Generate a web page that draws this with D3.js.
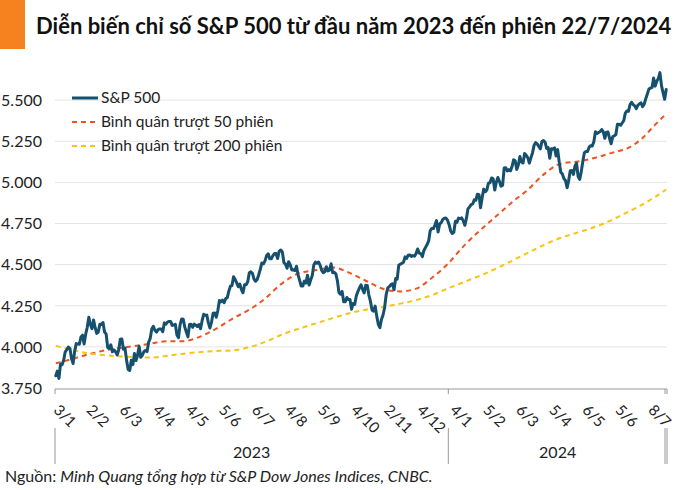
<!DOCTYPE html>
<html><head><meta charset="utf-8">
<script src="https://cdn.jsdelivr.net/npm/d3@7"></script>
<style>
body{margin:0;background:#fff;}
svg{display:block;font-family:Lato,"Noto Sans",sans-serif;}
</style>
</head><body>
<svg id="chart" width="700" height="490"></svg>
<script>
// ---- data ----
const spx2023 = [
3824,3853,3808,3895,3892,3919,3970,3983,3999,3991,3929,3899,3973,4020,4017,4016,4060,4071,4018,4077,
4119,4180,4136,4111,4164,4118,4082,4090,4137,4136,4148,4090,4079,3997,3991,4012,3970,3982,3970,
3951,3981,4046,4048,3986,3992,3918,3862,3856,3919,3892,3960,3917,3952,4003,3937,3949,3971,3978,3971,4028,4051,4109,
4125,4101,4090,4105,4109,4109,4092,4146,4138,4151,4155,4155,4130,4134,4137,4072,4056,4135,4169,
4168,4120,4091,4061,4136,4138,4119,4138,4131,4124,4136,4110,4159,4198,4192,4193,4146,4115,4151,4205,4206,4180,
4221,4282,4274,4284,4268,4294,4299,4339,4369,4373,4426,4410,4389,4366,4382,4348,4329,4378,4377,4396,4450,
4456,4447,4412,4399,4410,4439,4472,4510,4505,4523,4555,4566,4535,4536,4555,4567,4567,4537,4582,4589,
4577,4513,4502,4478,4518,4499,4468,4469,4464,4490,4438,4404,4370,4370,4400,4388,4436,4376,4406,4433,4498,4515,4508,
4516,4497,4465,4451,4457,4487,4462,4467,4505,4450,4454,4444,4402,4330,4320,4337,4274,4275,4300,4288,
4288,4229,4264,4258,4309,4336,4358,4377,4350,4328,4374,4373,4315,4278,4224,4217,4248,4187,4137,4117,4167,4194,
4238,4318,4358,4366,4378,4383,4347,4415,4412,4496,4503,4508,4514,4547,4538,4557,4559,4550,4555,4551,4568,
4595,4570,4567,4549,4586,4604,4622,4644,4707,4720,4719,4741,4768,4698,4747,4755,4775,4782,4783,4770];
const spx2024 = [
4743,4705,4689,4697,4764,4757,4783,4780,4784,4766,4739,4781,4840,4850,4865,4869,4894,4891,4928,4925,4846,
4906,4959,4943,4954,4995,4998,5027,5022,4953,5001,5030,5006,4976,4982,5087,5089,5070,5078,5070,5096,
5137,5131,5079,5105,5157,5124,5118,5175,5165,5150,5117,5149,5179,5225,5242,5234,5218,5204,5248,5254,
5244,5206,5211,5147,5204,5202,5210,5161,5199,5123,5062,5051,5022,5011,4967,5011,5071,5072,5048,5100,5116,5036,
5018,5064,5128,5181,5188,5188,5214,5223,5221,5247,5308,5297,5303,5308,5321,5307,5268,5305,5306,5267,5235,5278,
5283,5291,5354,5353,5347,5361,5375,5421,5434,5432,5473,5487,5473,5465,5448,5469,5478,5483,5460,
5475,5509,5537,5567,5573,5577,5634,5585,5615,5631,5667,5588,5545,5505,5564];

// 50-session moving average (session index, value)
const ma50Idx = [0,10,17,25,34,42,49,61,70,80,91,102,113,123,133,143,155,166,176,186,197,208,219,229,239,249,260,270,280,290,300,310,321,332,343,354,364,373,381,388];
const ma50Val = [3900,3925,3945,3965,3984,3995,4004,4021,4034,4034,4059,4111,4175,4226,4293,4380,4449,4467,4483,4453,4402,4353,4337,4354,4419,4503,4620,4711,4795,4879,4955,5047,5114,5127,5150,5181,5210,5270,5351,5417];

// 200-session moving average (session index, value)
const ma200Idx = [0,10,20,30,40,50,61,70,80,91,102,113,123,133,143,155,166,176,186,199,208,219,229,239,249,260,270,280,290,300,310,321,332,343,354,364,373,381,388];
const ma200Val = [4006,3982,3962,3950,3943,3938,3935,3945,3957,3968,3975,3980,3998,4030,4072,4112,4145,4175,4203,4229,4242,4263,4284,4314,4354,4396,4434,4476,4523,4571,4619,4663,4696,4730,4774,4822,4866,4912,4957];

const tickLabels = ["3/1","2/2","6/3","4/4","4/5","5/6","6/7","4/8","5/9","4/10","2/11","4/12","4/1","5/2","6/3","5/4","6/5","5/6","8/7"];
const tickStep = 21;
const yearNames = ["2023","2024"];
const yTicks = [3750,4000,4250,4500,4750,5000,5250,5500];
const seriesNames = ["S&P 500","Bình quân trượt 50 phiên","Bình quân trượt 200 phiên"];
const colors = ["#16506f","#ee5322","#f7c414"];
const titleText = "Diễn biến chỉ số S&P 500 từ đầu năm 2023 đến phiên 22/7/2024";

// ---- chart ----
const spx = spx2023.concat(spx2024);
const svg = d3.select("#chart");
const L = 55, R = 667, T = 59, B = 388;

const x = d3.scaleBand().domain(d3.range(spx.length)).range([L, R]).padding(0);
const xc = i => x(i) + x.bandwidth() / 2;
const y = d3.scaleLinear().domain([3750, 5750]).range([B, T]);

const loc = d3.formatLocale({decimal: ",", thousands: ".", grouping: [3], currency: ["", ""]});
const fmt = loc.format(",");

// title
svg.append("rect").attr("x", 0).attr("y", 0).attr("width", 25).attr("height", 49).attr("fill", "#f5821f");
svg.append("text").attr("x", 36).attr("y", 34).attr("font-size", 22).attr("font-weight", 700)
  .attr("fill", "#111").text(titleText);

// grid + y labels
const yAxis = svg.append("g");
yTicks.forEach(v => {
  if (v > 3750) {
    yAxis.append("line").attr("x1", L).attr("x2", R).attr("y1", y(v)).attr("y2", y(v))
      .attr("stroke", "#e3e3e3").attr("stroke-width", 1);
  }
  yAxis.append("text").attr("x", 42).attr("y", y(v)).attr("dy", "0.36em")
    .attr("text-anchor", "end").attr("font-size", 16).attr("fill", "#222").text(fmt(v));
});

// baseline / year brackets
const axisY = B + 1;
svg.append("line").attr("x1", L).attr("x2", R).attr("y1", axisY).attr("y2", axisY)
  .attr("stroke", "#999").attr("stroke-width", 1);
const yearBounds = [x(0), x(spx2023.length), R];
yearBounds.forEach((bx, k) => {
  const xs = k === 2 ? [bx - 2, bx] : [bx];
  xs.forEach(px => {
    svg.append("line").attr("x1", px).attr("x2", px).attr("y1", axisY).attr("y2", axisY + 5)
      .attr("stroke", "#999");
    svg.append("line").attr("x1", px).attr("x2", px).attr("y1", 428).attr("y2", 464)
      .attr("stroke", "#999");
  });
});
yearNames.forEach((nm, k) => {
  svg.append("text").attr("x", (yearBounds[k] + yearBounds[k + 1]) / 2).attr("y", 458)
    .attr("text-anchor", "middle").attr("font-size", 16).attr("fill", "#222").text(nm);
});

// x tick labels
tickLabels.forEach((lb, k) => {
  const px = xc(k * tickStep);
  svg.append("text").attr("transform", `translate(${px - 3},411) rotate(45)`)
    .attr("font-size", 15).attr("fill", "#222").text(lb);
});

// lines
const lineSpx = d3.line().x((d, i) => xc(i)).y(d => y(d)).curve(d3.curveLinear);
svg.append("path").datum(spx).attr("d", lineSpx).attr("fill", "none")
  .attr("stroke", colors[0]).attr("stroke-width", 3).attr("stroke-linejoin", "round").attr("stroke-linecap", "round");

const maLine = d3.line().x(d => xc(d[0])).y(d => y(d[1])).curve(d3.curveMonotoneX);
svg.insert("path", "path").datum(ma200Idx.map((v, i) => [v, ma200Val[i]])).attr("d", maLine)
  .attr("fill", "none").attr("stroke", colors[2]).attr("stroke-width", 2).attr("stroke-dasharray", "5,4");
svg.insert("path", "path").datum(ma50Idx.map((v, i) => [v, ma50Val[i]])).attr("d", maLine)
  .attr("fill", "none").attr("stroke", colors[1]).attr("stroke-width", 2).attr("stroke-dasharray", "5,4");

// legend
const leg = svg.append("g");
seriesNames.forEach((nm, k) => {
  const ly = 98 + k * 24;
  leg.append("line").attr("x1", 72).attr("x2", 98).attr("y1", ly).attr("y2", ly)
    .attr("stroke", colors[k]).attr("stroke-width", k === 0 ? 3 : 2)
    .attr("stroke-dasharray", k === 0 ? null : "5,4");
  leg.append("text").attr("x", 101).attr("y", ly).attr("dy", "0.35em")
    .attr("font-size", 15.5).attr("fill", "#222").text(nm);
});

// source
const src = svg.append("text").attr("x", 5).attr("y", 482).attr("font-size", 16).attr("fill", "#222");
src.append("tspan").text("Nguồn: ");
src.append("tspan").attr("font-style", "italic").text("Minh Quang tổng hợp từ S&P Dow Jones Indices, CNBC.");
</script>
</body></html>
